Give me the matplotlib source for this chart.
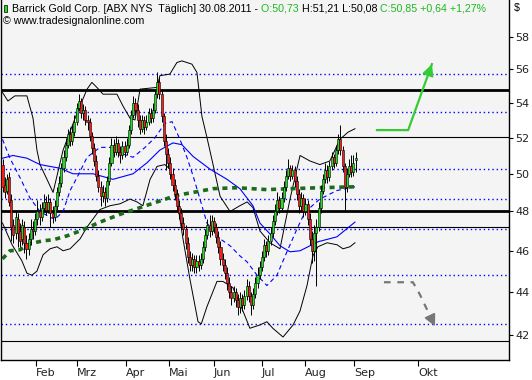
import matplotlib
matplotlib.use("Agg")
import matplotlib.pyplot as plt
from matplotlib.patches import Rectangle
from matplotlib.ticker import FixedLocator, NullLocator, FuncFormatter

# daily bars, Jan..30.08.2011 (bar index on x)
opens = [50.5, 49.4, 49.1, 49.8, 48.6, 47.3, 46.9, 47.6, 47.0, 46.6,
         47.2, 46.4, 46.1, 46.6, 47.1, 47.0, 47.6, 48.0, 47.7, 48.2,
         48.5, 48.1, 48.5, 47.9, 47.7, 48.3, 49.0, 49.5, 50.3, 50.9,
         51.6, 52.2, 51.8, 52.3, 52.9, 53.7, 54.1, 53.4, 53.6, 53.0,
         52.9, 52.1, 51.4, 50.7, 49.9, 49.3, 48.8, 49.0, 48.7, 49.6,
         50.6, 51.6, 51.2, 51.7, 51.2, 51.0, 51.5, 51.2, 51.6, 52.4,
         53.3, 54.0, 53.6, 53.0, 52.5, 53.0, 52.6, 52.9, 53.4, 53.1,
         53.6, 54.5, 55.2, 54.5, 53.2, 51.8, 51.1, 50.6, 50.0, 49.4,
         48.9, 48.3, 47.9, 47.4, 47.1, 46.4, 45.7, 45.3, 45.6, 45.2,
         45.5, 45.3, 45.6, 46.2, 46.8, 47.3, 47.0, 47.5, 47.2, 46.7,
         46.2, 45.6, 45.3, 44.9, 44.4, 44.0, 43.7, 44.0, 43.6, 43.3,
         43.7, 43.4, 43.8, 44.3, 43.8, 43.4, 43.9, 44.4, 44.8, 45.2,
         45.7, 46.3, 46.0, 46.5, 46.9, 47.5, 48.0, 48.6, 48.2, 48.7,
         49.3, 49.9, 50.3, 49.9, 50.2, 49.6, 48.9, 48.3, 48.7, 48.0,
         48.4, 47.6, 46.6, 46.0, 46.9, 47.2, 48.2, 49.1, 49.7, 50.2,
         49.8, 50.4, 50.9, 50.6, 51.3, 51.9, 51.3, 50.4, 49.3, 50.0,
         50.4, 50.1, 50.73]
highs = [50.8, 49.8, 50.0, 50.1, 48.9, 47.6, 48.0, 47.9, 47.4, 47.6,
         47.5, 46.8, 46.9, 47.6, 47.5, 47.9, 48.6, 48.4, 48.5, 48.9,
         48.8, 48.9, 48.7, 48.3, 48.6, 49.3, 49.9, 50.6, 51.3, 52.0,
         52.5, 52.6, 52.7, 53.3, 54.0, 54.5, 54.3, 53.9, 53.8, 53.3,
         53.1, 52.3, 51.7, 51.0, 50.2, 49.6, 49.4, 49.3, 49.9, 50.9,
         52.0, 51.9, 52.1, 51.9, 51.5, 51.8, 51.8, 52.0, 52.7, 53.6,
         54.4, 54.3, 53.9, 53.3, 53.3, 53.2, 53.3, 53.7, 53.7, 54.0,
         54.8, 55.8, 55.5, 54.8, 53.4, 52.2, 51.4, 50.9, 50.3, 49.7,
         49.2, 48.6, 48.2, 47.7, 47.3, 46.7, 46.0, 45.9, 45.8, 45.8,
         45.8, 45.9, 46.5, 47.1, 47.6, 47.8, 47.8, 47.7, 47.4, 47.0,
         46.5, 45.9, 45.6, 45.2, 44.7, 44.3, 44.3, 44.2, 43.9, 44.0,
         43.9, 44.1, 44.6, 44.5, 44.0, 44.2, 44.7, 45.2, 45.5, 46.0,
         46.6, 46.5, 46.8, 47.2, 47.8, 48.4, 49.0, 48.8, 49.0, 49.6,
         50.2, 50.8, 50.5, 50.5, 50.4, 49.9, 49.2, 49.0, 48.9, 48.7,
         48.6, 47.9, 47.0, 47.3, 47.6, 48.5, 49.4, 50.0, 50.6, 50.5,
         50.7, 51.2, 51.1, 51.6, 52.2, 52.7, 51.5, 50.6, 50.3, 50.8,
         51.0, 51.0, 51.21]
lows = [49.0, 48.7, 48.9, 48.3, 46.5, 46.4, 46.6, 46.2, 46.2, 46.3,
        45.9, 45.6, 45.8, 46.3, 46.6, 46.8, 47.3, 47.3, 47.5, 48.0,
        47.8, 47.9, 47.2, 47.4, 47.5, 48.1, 48.8, 49.3, 50.1, 50.7,
        51.4, 51.5, 51.6, 52.1, 52.7, 53.5, 53.1, 53.0, 52.7, 52.4,
        51.8, 51.1, 50.4, 49.6, 49.0, 48.3, 48.5, 48.3, 48.5, 49.4,
        50.4, 50.9, 51.0, 50.9, 50.6, 50.8, 50.9, 51.0, 51.4, 52.2,
        53.1, 53.3, 52.6, 52.2, 52.3, 52.2, 52.4, 52.7, 52.8, 52.9,
        53.4, 54.3, 54.2, 52.9, 51.5, 50.2, 50.3, 49.7, 49.1, 48.6,
        48.0, 47.6, 47.1, 46.8, 46.1, 45.4, 45.0, 45.0, 44.9, 44.9,
        45.0, 45.1, 45.4, 46.0, 46.6, 46.7, 46.8, 46.9, 46.4, 45.9,
        45.3, 45.0, 44.6, 44.1, 43.7, 43.4, 43.5, 43.3, 42.9, 43.0,
        43.1, 43.2, 43.6, 43.5, 42.9, 43.2, 43.7, 44.2, 44.6, 45.0,
        45.5, 45.7, 45.8, 46.3, 46.7, 47.3, 47.8, 47.9, 48.0, 48.5,
        49.1, 49.7, 49.6, 49.7, 49.3, 48.6, 47.9, 48.0, 47.7, 47.8,
        47.3, 46.3, 45.4, 45.5, 44.3, 47.0, 47.9, 48.9, 49.5, 49.5,
        49.6, 50.2, 50.3, 50.4, 51.1, 51.0, 50.1, 48.0, 49.0, 49.8,
        49.8, 49.9, 50.08]
closes = [49.3, 49.0, 49.7, 48.5, 47.2, 46.8, 47.7, 46.9, 46.5, 47.3,
          46.4, 46.1, 46.6, 47.1, 47.0, 47.6, 48.0, 47.7, 48.2, 48.5,
          48.1, 48.5, 47.9, 47.7, 48.3, 49.0, 49.5, 50.3, 50.9, 51.6,
          52.2, 51.8, 52.3, 52.9, 53.7, 54.1, 53.4, 53.6, 53.0, 52.9,
          52.1, 51.4, 50.7, 49.9, 49.3, 48.8, 49.0, 48.7, 49.6, 50.6,
          51.6, 51.2, 51.7, 51.2, 51.0, 51.5, 51.2, 51.6, 52.4, 53.3,
          54.0, 53.6, 53.0, 52.5, 53.0, 52.6, 52.9, 53.4, 53.1, 53.6,
          54.5, 55.2, 54.5, 53.2, 51.8, 51.1, 50.6, 50.0, 49.4, 48.9,
          48.3, 47.9, 47.4, 47.1, 46.4, 45.7, 45.3, 45.6, 45.2, 45.5,
          45.3, 45.6, 46.2, 46.8, 47.3, 47.0, 47.5, 47.2, 46.7, 46.2,
          45.6, 45.3, 44.9, 44.4, 44.0, 43.7, 44.0, 43.6, 43.3, 43.7,
          43.4, 43.8, 44.3, 43.8, 43.4, 43.9, 44.4, 44.8, 45.2, 45.7,
          46.3, 46.0, 46.5, 46.9, 47.5, 48.0, 48.6, 48.2, 48.7, 49.3,
          49.9, 50.3, 49.9, 50.2, 49.6, 48.9, 48.3, 48.7, 48.0, 48.4,
          47.6, 46.6, 46.0, 46.9, 47.2, 48.2, 49.1, 49.7, 50.2, 49.8,
          50.4, 50.9, 50.6, 51.3, 51.9, 51.3, 50.4, 49.3, 50.0, 50.4,
          50.1, 50.6, 50.85]

# indicator lines (bar index, price)
bb_up_x = [0, 2.5, 5.7, 11.2, 14, 15.8, 17.2, 20.4, 23.2, 27.8, 34.2, 38.8, 41,
           43.3, 46.1, 52.5, 55.3, 58.5, 60.8, 63.1, 70.9, 72.2, 76.8, 80, 82.3,
           86.9, 89.2, 91.5, 93.8, 96.6, 99.8, 104.4, 108.9, 112.2, 114.9, 118.1,
           122.7, 127.3, 131.9, 136.5, 141, 145.6, 150.2, 154.8, 158.5, 161.7]
bb_up_y = [54.6, 54.1, 54.4, 54.4, 53.1, 51.3, 50.5, 49.7, 49.0, 51.3, 53.4, 54.8,
           55.2, 54.9, 54.5, 54.5, 53.8, 53.1, 53.0, 54.8, 54.9, 55.6, 55.7, 56.4,
           56.5, 56.3, 55.8, 53.2, 52.0, 50.5, 48.8, 48.0, 48.3, 48.5, 48.2, 47.0,
           46.4, 46.1, 48.65, 51.0, 50.7, 50.5, 50.7, 51.9, 52.3, 52.5]
bb_lo_x = [0, 4.4, 8.9, 11.2, 13.5, 15.8, 18.6, 21.8, 25, 27.8, 31, 35.6, 38.8,
           44.7, 49.3, 53.9, 58.5, 61.7, 64.4, 67.7, 70.9, 74.5, 76.8, 80, 82.8,
           86, 89.7, 91.2, 93.8, 98.4, 101.1, 105.7, 110.3, 113.5, 118.1, 121.3,
           124, 128.7, 133.3, 136.5, 139.7, 142.4, 144.7, 148.9, 153.5, 156.2,
           159.4, 161.7]
bb_lo_y = [47.4, 46.3, 45.5, 44.9, 44.8, 45.0, 45.8, 46.1, 46.2, 46.0, 46.1, 46.6,
           47.2, 48.1, 48.3, 48.4, 48.65, 48.5, 48.3, 49.7, 50.4, 50.5, 50.25,
           48.65, 46.6, 44.6, 42.6, 42.5, 43.3, 44.5, 44.5, 44.2, 43.1, 42.3,
           42.45, 42.6, 42.3, 41.9, 42.45, 43.1, 44.3, 45.75, 46.2, 46.4, 46.3,
           46.1, 46.2, 46.4]
ma_slow_x = [0, 4.8, 11.2, 17.2, 26.4, 32.3, 41.5, 50.7, 59.9, 66.3, 72.2, 78.2,
             82.3, 87.4, 95.2, 103, 108.9, 114.9, 118.1, 122.7, 127.3, 131.9,
             136.5, 144.7, 153.4, 161.7]
ma_slow_y = [50.85, 51.0, 50.85, 50.5, 50.3, 50.0, 50.0, 49.7, 50.0, 50.6, 51.3,
             51.7, 51.6, 50.95, 50.25, 49.7, 49.2, 48.3, 47.4, 46.85, 46.25,
             45.95, 46.0, 46.45, 46.7, 47.45]
ma_fast_x = [0, 3.4, 8, 12.6, 17.2, 21.8, 24.1, 27.8, 31, 34.2, 38.8, 44.7, 49.3,
             54.8, 59.9, 65.4, 70, 74.5, 77.8, 81.4, 84.6, 87.4, 90.6, 93.8, 99.8,
             104.4, 108.9, 112.2, 116.8, 121.3, 125.9, 130.5, 135.1, 138.8,
             145.6, 153.4, 161.7]
ma_fast_y = [51.9, 50.85, 49.8, 48.7, 48.0, 47.7, 47.6, 48.0, 49.1, 49.8, 50.9,
             51.45, 51.45, 51.1, 50.9, 51.45, 52.0, 52.8, 52.9, 51.9, 50.9, 49.9,
             48.65, 47.4, 46.6, 46.25, 45.75, 45.45, 44.8, 44.3, 44.8, 45.95,
             47.1, 47.97, 48.65, 49.1, 49.3]
ma200_x = [0, 3.4, 8, 12.6, 18.6, 23.2, 29.6, 35.6, 44.7, 53.9, 63.1, 72.2, 80,
           87.4, 96.6, 107.6, 121.3, 132.1, 145.6, 161.7]
ma200_y = [45.6, 46.0, 46.05, 46.35, 46.5, 46.55, 46.75, 47.0, 47.45, 47.85, 48.2,
           48.55, 48.85, 49.0, 49.2, 49.25, 49.15, 49.2, 49.25, 49.3]

thick_levels = [54.75, 48.05]
thin_levels = [52.05, 47.2, 41.7]
dotted_levels = [55.7, 53.45, 50.25, 48.65, 47.1, 44.8, 42.5]

month_pos = [15.2, 34, 56.6, 76.4, 97, 119, 138.8, 161.2, 190.6]
month_lbl = ["Feb", "Mrz", "Apr", "Mai", "Jun", "Jul", "Aug", "Sep", "Okt"]
price_ticks = [42, 44, 46, 48, 50, 52, 54, 56, 58]

up_arrow_x = [171.8, 186.1, 197.0]
up_arrow_y = [52.42, 52.42, 56.3]
down_arrow_x = [175.0, 188.3, 191.5, 198.4]
down_arrow_y = [44.46, 44.46, 43.87, 42.39]

W, H = 532, 380
fig = plt.figure(figsize=(W / 100, H / 100), dpi=100)
fig.patch.set_facecolor("white")
ax = fig.add_axes([1 / W, 20 / H, 508.5 / W, 360 / H])
ax.set_facecolor("#f4f4f4")
ax.set_yscale("log")
ax.set_ylim(40.87, 60.35)
ax.set_xlim(-0.69, 232.6)

for lv in dotted_levels:
    ax.axhline(lv, color="#0000ff", lw=1.0, ls=(0, (1, 2.1)), zorder=1)
for lv in thin_levels:
    ax.axhline(lv, color="black", lw=0.8, zorder=1)
for lv in thick_levels:
    ax.axhline(lv, color="black", lw=2.0, zorder=1)

ax.plot(bb_up_x, bb_up_y, color="black", lw=0.7, zorder=2)
ax.plot(bb_lo_x, bb_lo_y, color="black", lw=0.7, zorder=2)
ax.plot(ma_slow_x, ma_slow_y, color="#0000ff", lw=0.8, zorder=2)
ax.plot(ma_fast_x, ma_fast_y, color="#0000ff", lw=0.8, ls=(0, (4, 3)), zorder=2)
ax.plot(ma200_x, ma200_y, color="#1a6b1a", lw=2.6, ls=(0, (1.4, 1.3)), zorder=2)

# candles
idx = list(range(len(closes)))
ax.vlines(idx, lows, highs, color="black", lw=0.7, zorder=3)
bottoms = [min(o, c) for o, c in zip(opens, closes)]
heights = [max(abs(c - o), 0.05) for o, c in zip(opens, closes)]
colors = ["#22dd22" if c >= o else "#ff1a1a" for o, c in zip(opens, closes)]
ax.bar(idx, heights, bottom=bottoms, width=0.95, color=colors,
       edgecolor="black", linewidth=0.4, zorder=4)


def arrow(xs, ys, col, ls):
    ax.plot(xs, ys, color=col, lw=1.6, ls=ls, zorder=5)
    # short solid stub at the tip carries the head
    x0 = xs[-1] - 0.12 * (xs[-1] - xs[-2])
    y0 = ys[-1] * (ys[-2] / ys[-1]) ** 0.12
    ax.annotate("", xy=(xs[-1], ys[-1]), xytext=(x0, y0),
                arrowprops=dict(arrowstyle="-|>,head_length=0.7,head_width=0.35",
                                color=col, lw=1.2, shrinkA=0, shrinkB=0),
                zorder=6)


arrow(up_arrow_x, up_arrow_y, "#33cc33", "-")
arrow(down_arrow_x, down_arrow_y, "#777777", (0, (3, 3)))

# axes
ax.spines["top"].set_visible(False)
for s in ["left", "right", "bottom"]:
    ax.spines[s].set_linewidth(1.0)
ax.yaxis.tick_right()
ax.yaxis.set_major_locator(FixedLocator(price_ticks))
ax.yaxis.set_minor_locator(NullLocator())
ax.yaxis.set_major_formatter(FuncFormatter(lambda v, p: "%d" % round(v)))
ax.tick_params(axis="y", length=3, width=0.8, pad=1, labelsize=8,
               labelcolor="#222222")
ax.set_xticks(month_pos)
ax.set_xticklabels(month_lbl, ha="left")
ax.tick_params(axis="x", length=4, width=0.8, pad=2, labelsize=8,
               labelcolor="#222222")

# header
fig.canvas.draw()
r = fig.canvas.get_renderer()
parts = [("Barrick Gold Corp. [ABX NYS  Täglich] 30.08.2011 - ", "black"),
         ("O:50,73 ", "#1fb81f"),
         ("H:51,21 L:50,08 ", "black"),
         ("C:50,85 +0,64 +1,27%", "#1fb81f")]
x = 12 / W
for txt, col in parts:
    t = fig.text(x, 1 - 8.5 / H, txt, color=col, fontsize=7.7, va="center",
                 ha="left", family="Liberation Sans")
    x += t.get_window_extent(r).width / W
fig.text(3 / W, 1 - 21 / H, "© www.tradesignalonline.com", fontsize=7.7,
         va="center", ha="left", family="Liberation Sans")
fig.text(514 / W, 1 - 8.5 / H, "$", fontsize=7.7, va="center", ha="left",
         family="Liberation Sans")
fig.add_artist(Rectangle((4 / W, 1 - 12 / H), 3 / W, 7 / H, facecolor="#22dd22",
                         edgecolor="black", lw=0.5, transform=fig.transFigure))

fig.savefig("out.png", dpi=100)
